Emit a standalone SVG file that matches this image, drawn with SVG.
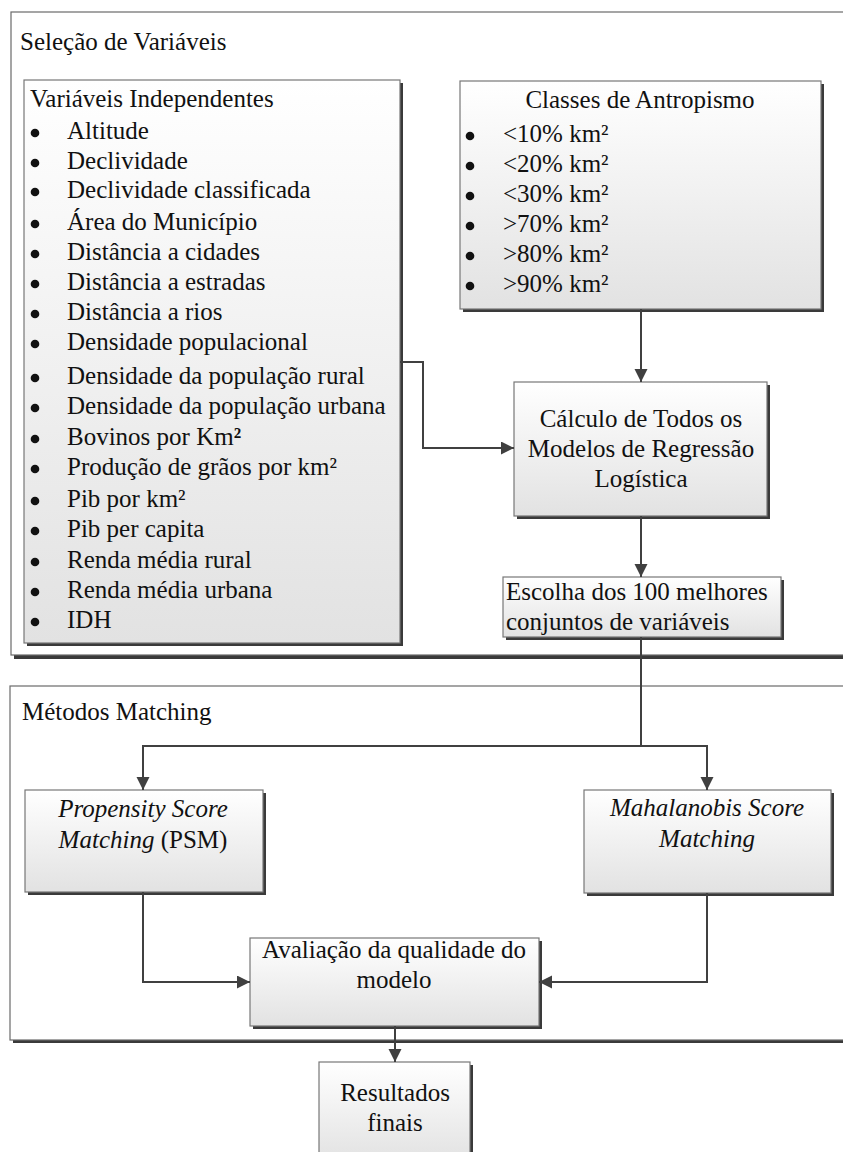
<svg xmlns="http://www.w3.org/2000/svg" width="843" height="1152" viewBox="0 0 843 1152" font-family="'Liberation Serif', 'Times New Roman', serif" font-size="25">
<defs>
<linearGradient id="g" x1="0" y1="0" x2="0" y2="1">
<stop offset="0" stop-color="#ffffff"/>
<stop offset="1" stop-color="#e2e2e2"/>
</linearGradient>
<marker id="ah" markerUnits="userSpaceOnUse" markerWidth="14" markerHeight="14" refX="13" refY="6.5" orient="auto">
<path d="M0,0 L13,6.5 L0,13 z" fill="#404040"/>
</marker>
<style>
text{font-family:'Liberation Serif','Times New Roman',serif;font-size:25px;fill:#111}
.it{font-style:italic}
.c{text-anchor:middle}
.frame{fill:#fff;stroke:#6a6a6a;stroke-width:1.2}
.fsh{fill:#3a3a3a}
.box{fill:url(#g);stroke:#777;stroke-width:1.2}
.sh{fill:#3a3a3a}
.conn{fill:none;stroke:#404040;stroke-width:2;marker-end:url(#ah)}
.dot{fill:#111}
</style>
</defs>

<g id="frame-selecao">
<rect class="fsh" x="14" y="15" width="840" height="644"/>
<rect class="frame" x="11" y="12" width="840" height="643"/>
<text x="20" y="50">Seleção de Variáveis</text>
</g>

<g id="frame-metodos">
<rect class="fsh" x="13" y="689" width="840" height="354"/>
<rect class="frame" x="10" y="686" width="840" height="354"/>
<text x="22" y="720">Métodos Matching</text>
</g>

<g id="node-variaveis">
<rect class="sh" x="27" y="83" width="376" height="563"/>
<rect class="box" x="24" y="80" width="376" height="563"/>
<text x="30" y="107">Variáveis Independentes</text>
<g class="dot">
<circle cx="35" cy="133" r="4.3"/><circle cx="35" cy="163" r="4.3"/><circle cx="35" cy="192" r="4.3"/>
<circle cx="35" cy="224" r="4.3"/><circle cx="35" cy="254" r="4.3"/><circle cx="35" cy="284" r="4.3"/>
<circle cx="35" cy="314" r="4.3"/><circle cx="35" cy="344" r="4.3"/><circle cx="35" cy="378" r="4.3"/>
<circle cx="35" cy="408" r="4.3"/><circle cx="35" cy="439" r="4.3"/><circle cx="35" cy="469" r="4.3"/>
<circle cx="35" cy="501" r="4.3"/><circle cx="35" cy="531" r="4.3"/><circle cx="35" cy="562" r="4.3"/>
<circle cx="35" cy="592" r="4.3"/><circle cx="35" cy="622" r="4.3"/>
</g>
<text x="67" y="139">Altitude</text>
<text x="67" y="169">Declividade</text>
<text x="67" y="198">Declividade classificada</text>
<text x="67" y="230">Área do Município</text>
<text x="67" y="260">Distância a cidades</text>
<text x="67" y="290">Distância a estradas</text>
<text x="67" y="320">Distância a rios</text>
<text x="67" y="350">Densidade populacional</text>
<text x="67" y="384">Densidade da população rural</text>
<text x="67" y="414">Densidade da população urbana</text>
<text x="67" y="445">Bovinos por Km<tspan font-weight="bold">²</tspan></text>
<text x="67" y="475">Produção de grãos por km²</text>
<text x="67" y="507">Pib por km²</text>
<text x="67" y="537">Pib per capita</text>
<text x="67" y="568">Renda média rural</text>
<text x="67" y="598">Renda média urbana</text>
<text x="67" y="628">IDH</text>
</g>

<g id="node-classes">
<rect class="sh" x="463" y="84" width="361" height="228"/>
<rect class="box" x="460" y="81" width="361" height="228"/>
<text class="c" x="640" y="108">Classes de Antropismo</text>
<g class="dot">
<circle cx="470" cy="136" r="4.3"/><circle cx="470" cy="166" r="4.3"/><circle cx="470" cy="196" r="4.3"/>
<circle cx="470" cy="226" r="4.3"/><circle cx="470" cy="256" r="4.3"/><circle cx="470" cy="286" r="4.3"/>
</g>
<text x="503" y="142">&lt;10% km²</text>
<text x="503" y="172">&lt;20% km²</text>
<text x="503" y="202">&lt;30% km²</text>
<text x="503" y="232">&gt;70% km²</text>
<text x="503" y="262">&gt;80% km²</text>
<text x="503" y="292">&gt;90% km²</text>
</g>

<g id="node-calculo">
<rect class="sh" x="517" y="385" width="253" height="134"/>
<rect class="box" x="514" y="382" width="253" height="134"/>
<text class="c" x="641" y="427">Cálculo de Todos os</text>
<text class="c" x="641" y="457">Modelos de Regressão</text>
<text class="c" x="641" y="487">Logística</text>
</g>

<g id="node-escolha">
<rect class="sh" x="506" y="580" width="278" height="60"/>
<rect class="box" x="503" y="577" width="278" height="60"/>
<text x="506" y="600">Escolha dos 100 melhores</text>
<text x="506" y="630">conjuntos de variáveis</text>
</g>

<g id="node-psm">
<rect class="sh" x="28" y="793" width="238" height="102"/>
<rect class="box" x="25" y="790" width="238" height="102"/>
<text class="c it" x="143" y="817">Propensity Score</text>
<text class="c" x="143" y="848"><tspan class="it">Matching</tspan> (PSM)</text>
</g>

<g id="node-mahalanobis">
<rect class="sh" x="587" y="793" width="247" height="103"/>
<rect class="box" x="584" y="790" width="247" height="103"/>
<text class="c it" x="707" y="816">Mahalanobis Score</text>
<text class="c it" x="707" y="847">Matching</text>
</g>

<g id="node-avaliacao">
<rect class="sh" x="253" y="941" width="289" height="88"/>
<rect class="box" x="250" y="938" width="289" height="88"/>
<text class="c" x="394" y="958">Avaliação da qualidade do</text>
<text class="c" x="394" y="988">modelo</text>
</g>

<g id="node-resultados">
<rect class="sh" x="322" y="1065" width="151" height="100"/>
<rect class="box" x="319" y="1062" width="151" height="100"/>
<text class="c" x="395" y="1101">Resultados</text>
<text class="c" x="395" y="1131">finais</text>
</g>

<g id="connectors">
<path class="conn" d="M641,309 V382"/>
<path class="conn" d="M400,362 H423 V448 H514"/>
<path class="conn" d="M641,516 V577"/>
<path class="conn" d="M641,637 V746 H143 V790"/>
<path class="conn" d="M641,746 H707 V790"/>
<path class="conn" d="M143,892 V982 H250"/>
<path class="conn" d="M707,893 V982 H539"/>
<path class="conn" d="M395,1026 V1062"/>
</g>
</svg>
